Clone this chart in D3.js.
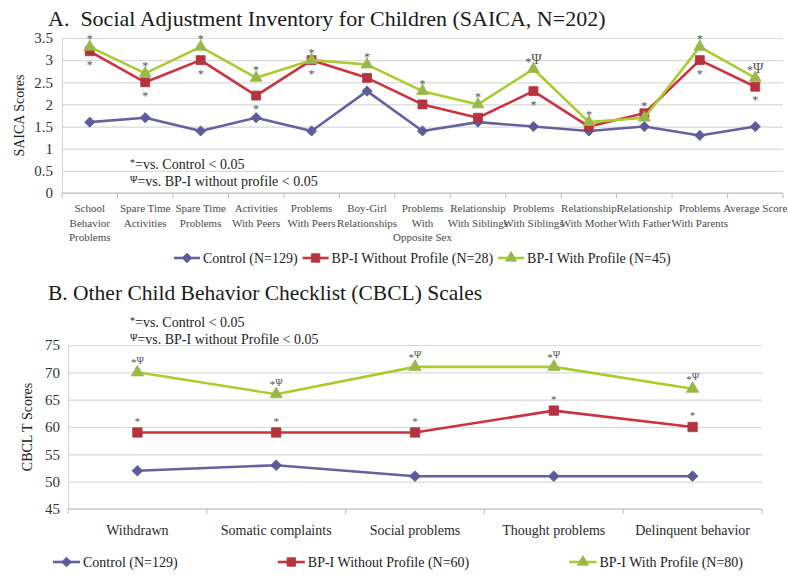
<!DOCTYPE html>
<html>
<head>
<meta charset="utf-8">
<script src="https://cdn.jsdelivr.net/npm/d3@7"></script>
<style>
  html, body { margin: 0; padding: 0; background: #fff; }
  svg { display: block; }
  svg text { font-family: "Liberation Serif", Tinos, "Times New Roman", Times, "DejaVu Serif", serif; }
</style>
</head>
<body>
<svg id="chart" width="788" height="578"></svg>
<script>
// ---- Panel A: Social Adjustment Inventory for Children (SAICA) ----
const saicaCategories = [
  "School\nBehavior\nProblems", "Spare Time\nActivities", "Spare Time\nProblems",
  "Activities\nWith Peers", "Problems\nWith Peers", "Boy-Girl\nRelationships",
  "Problems\nWith\nOpposite Sex", "Relationship\nWith Siblings", "Problems\nWith Siblings",
  "Relationship\nWith Mother", "Relationship\nWith Father", "Problems\nWith Parents",
  "Average Score"
];
const saicaTicks = [0, 0.5, 1, 1.5, 2, 2.5, 3, 3.5];
const saicaControl     = [1.6, 1.7, 1.4, 1.7, 1.4, 2.3, 1.4, 1.6, 1.5, 1.4, 1.5, 1.3, 1.5];
const saicaNoProfile   = [3.2, 2.5, 3.0, 2.2, 3.0, 2.6, 2.0, 1.7, 2.3, 1.5, 1.8, 3.0, 2.4];
const saicaWithProfile = [3.3, 2.7, 3.3, 2.6, 3.0, 2.9, 2.3, 2.0, 2.8, 1.6, 1.7, 3.3, 2.6];
const saicaSigAbove = ["*", "*", "*", "*", "*", "*", "*", "*", "*Ψ", "*", "*", "*", "*Ψ"];
const saicaSigBelow = ["*", "*", "*", "*", "*", "", "", "", "*", "", "", "*", "*"];
const saicaLegend = ["Control (N=129)", "BP-I Without Profile (N=28)", "BP-I With Profile (N=45)"];

// ---- Panel B: Other Child Behavior Checklist (CBCL) scales ----
const cbclCategories = ["Withdrawn", "Somatic complaints", "Social problems", "Thought problems", "Delinquent behavior"];
const cbclTicks = [45, 50, 55, 60, 65, 70, 75];
const cbclControl     = [52, 53, 51, 51, 51];
const cbclNoProfile   = [59, 59, 59, 63, 60];
const cbclWithProfile = [70, 66, 71, 71, 67];
const cbclSigWithProfile = ["*Ψ", "*Ψ", "*Ψ", "*Ψ", "*Ψ"];
const cbclSigNoProfile   = ["*", "*", "*", "*", "*"];
const cbclLegend = ["Control (N=129)", "BP-I Without Profile (N=60)", "BP-I With Profile (N=80)"];

// Series appearance (control, BP-I without profile, BP-I with profile)
const seriesStyle = [
  { line: "#64629f", fill: "#5d5b9a", shape: "diamond" },
  { line: "#cc323f", fill: "#b3343f", shape: "square" },
  { line: "#a9cc2e", fill: "#98b94a", shape: "triangle" }
];

const svg = d3.select("#chart");

function markerPath(shape, scale = 1) {
  if (shape === "diamond") return d3.symbol(d3.symbolSquare, 52 * scale)();
  if (shape === "square") return d3.symbol(d3.symbolSquare, 80 * scale)();
  return d3.symbol(d3.symbolTriangle, 60 * scale)();
}

function drawMarker(g, shape, cx, cy, style, scale = 1) {
  g.append("path")
    .attr("d", markerPath(shape, scale))
    .attr("transform", `translate(${cx},${cy})` + (shape === "diamond" ? " rotate(45)" : ""))
    .attr("fill", style.fill)
    .attr("stroke", style.fill)
    .attr("stroke-width", 0.8);
}

// Significance marks: "*" and optional "Ψ", vertically centred on yc
function sigText(g, str, x, yc, starSize, psiSize, color) {
  const t = g.append("text").attr("x", x).attr("y", yc + starSize * 0.55)
    .attr("text-anchor", "middle").attr("fill", color);
  const chars = Array.from(str);
  let prevBase = yc + starSize * 0.55;
  chars.forEach((c, i) => {
    const isStar = c === "*";
    const size = isStar ? starSize : psiSize;
    const base = isStar ? yc + starSize * 0.55 : yc + psiSize * 0.36;
    const ts = t.append("tspan").attr("font-size", size).text(c);
    if (i > 0) ts.attr("dy", base - prevBase);
    prevBase = base;
  });
}

function drawPanel(cfg) {
  const g = svg.append("g");
  const x = d3.scaleBand().domain(cfg.categories).range(cfg.xRange);
  const y = d3.scaleLinear().domain(d3.extent(cfg.ticks)).range(cfg.yRange);
  const width = cfg.xRange[1] - cfg.xRange[0];
  const cx = i => x(cfg.categories[i]) + x.bandwidth() / 2;

  // y axis with horizontal gridlines
  const yAxis = d3.axisLeft(y).tickValues(cfg.ticks)
    .tickSize(-width).tickSizeOuter(0).tickPadding(cfg.tickPad)
    .tickFormat(d => String(d));
  const ya = g.append("g").attr("transform", `translate(${cfg.xRange[0]},0)`).call(yAxis);
  ya.attr("font-family", null);
  ya.select(".domain").attr("stroke", "#d4d4d4");
  ya.selectAll(".tick line").attr("stroke", "#d9d9d9").attr("stroke-width", 1.2);
  ya.selectAll(".tick text").attr("font-size", cfg.tickFont).attr("fill", "#333");

  // category axis: baseline with ticks at band boundaries
  const y0 = y(d3.min(cfg.ticks));
  g.append("line").attr("x1", cfg.xRange[0]).attr("x2", cfg.xRange[1])
    .attr("y1", y0).attr("y2", y0).attr("stroke", "#bdbdbd").attr("stroke-width", 1.2);
  d3.range(cfg.categories.length + 1).forEach(i => {
    const bx = cfg.xRange[0] + i * x.step();
    g.append("line").attr("x1", bx).attr("x2", bx).attr("y1", y0).attr("y2", y0 + 5)
      .attr("stroke", "#bdbdbd");
  });

  // category labels
  cfg.categories.forEach((c, i) => {
    const t = g.append("text").attr("text-anchor", "middle")
      .attr("font-size", cfg.catFont).attr("fill", cfg.catColor);
    c.split("\n").forEach((line, j) => {
      t.append("tspan").attr("x", cx(i)).attr("y", cfg.catY + j * cfg.catLine).text(line);
    });
  });

  // y axis title
  g.append("text")
    .attr("transform", `translate(${cfg.yTitleX},${(cfg.yRange[0] + cfg.yRange[1]) / 2}) rotate(-90)`)
    .attr("text-anchor", "middle").attr("font-size", 14).attr("fill", "#222")
    .text(cfg.yTitle);

  // series lines and markers
  const line = d3.line().x((d, i) => cx(i)).y(d => y(d));
  cfg.series.forEach((vals, s) => {
    const st = seriesStyle[s];
    g.append("path").datum(vals).attr("d", line)
      .attr("fill", "none").attr("stroke", st.line).attr("stroke-width", 2.6)
      .attr("stroke-linejoin", "round");
    vals.forEach((v, i) => drawMarker(g, st.shape, cx(i), y(v), st, cfg.markerScale));
  });

  return { g, x, y, cx };
}

// ---------------- Panel A ----------------
svg.append("text").attr("x", 48).attr("y", 26).attr("font-size", 22).attr("fill", "#1a1a1a")
  .attr("xml:space", "preserve")
  .text("A.  Social Adjustment Inventory for Children (SAICA, N=202)");

const pA = drawPanel({
  categories: saicaCategories, ticks: saicaTicks,
  xRange: [62, 783], yRange: [193, 38], tickPad: 9, tickFont: 15,
  catFont: 11, catColor: "#4a4a4a", catY: 212, catLine: 14.5,
  yTitle: "SAICA Scores", yTitleX: 24, markerScale: 1,
  series: [saicaControl, saicaNoProfile, saicaWithProfile]
});

saicaCategories.forEach((c, i) => {
  const top = Math.max(saicaNoProfile[i], saicaWithProfile[i]);
  if (saicaSigAbove[i]) sigText(pA.g, saicaSigAbove[i], pA.cx(i), pA.y(top) - 10, 12, 14, "#555");
  if (saicaSigBelow[i]) sigText(pA.g, saicaSigBelow[i], pA.cx(i), pA.y(saicaNoProfile[i]) + 11, 12, 14, "#555");
});

// significance notes
function noteLines(x, yFirst, lines) {
  lines.forEach((l, j) => {
    const t = svg.append("text").attr("x", x).attr("y", yFirst + j * 17)
      .attr("font-size", 14).attr("fill", "#222");
    t.append("tspan").attr("font-size", 10).attr("dy", -3).text(l[0]);
    t.append("tspan").attr("dy", 3).text(l[1]);
  });
}
noteLines(130, 169, [["*", "=vs. Control < 0.05"], ["Ψ", "=vs. BP-I without profile < 0.05"]]);

// legend, panel A (packed items)
(function () {
  const g = svg.append("g").attr("transform", "translate(174,258)");
  let xPos = 0;
  saicaLegend.forEach((label, s) => {
    const st = seriesStyle[s];
    g.append("line").attr("x1", xPos).attr("x2", xPos + 26).attr("y1", 0).attr("y2", 0)
      .attr("stroke", st.line).attr("stroke-width", 2.6);
    drawMarker(g, st.shape, xPos + 13, 0, st, 0.9);
    const t = g.append("text").attr("x", xPos + 29).attr("y", 5)
      .attr("font-size", 14).attr("fill", "#222").text(label);
    xPos += 29 + t.node().getComputedTextLength() + 5;
  });
})();

// ---------------- Panel B ----------------
svg.append("text").attr("x", 48).attr("y", 300).attr("font-size", 21.5).attr("fill", "#1a1a1a")
  .text("B. Other Child Behavior Checklist (CBCL) Scales");

noteLines(130, 327, [["*", "=vs. Control < 0.05"], ["Ψ", "=vs. BP-I without Profile < 0.05"]]);

const pB = drawPanel({
  categories: cbclCategories, ticks: cbclTicks,
  xRange: [68, 762], yRange: [509, 345], tickPad: 8, tickFont: 15,
  catFont: 14, catColor: "#2a2a2a", catY: 535, catLine: 15,
  yTitle: "CBCL T Scores", yTitleX: 32, markerScale: 1.1,
  series: [cbclControl, cbclNoProfile, cbclWithProfile]
});

cbclCategories.forEach((c, i) => {
  if (cbclSigWithProfile[i]) sigText(pB.g, cbclSigWithProfile[i], pB.cx(i), pB.y(cbclWithProfile[i]) - 12, 11, 10, "#555");
  if (cbclSigNoProfile[i]) sigText(pB.g, cbclSigNoProfile[i], pB.cx(i), pB.y(cbclNoProfile[i]) - 14, 11, 10, "#555");
});

// legend, panel B (items spread across the width)
(function () {
  const g = svg.append("g").attr("transform", "translate(0,562)");
  const left = 53, right = 743;
  const items = cbclLegend.map((label, s) => {
    const it = g.append("g");
    const st = seriesStyle[s];
    it.append("line").attr("x1", 0).attr("x2", 27).attr("y1", 0).attr("y2", 0)
      .attr("stroke", st.line).attr("stroke-width", 2.6);
    drawMarker(it, st.shape, 13.5, 0, st, 0.9);
    const t = it.append("text").attr("x", 30).attr("y", 5)
      .attr("font-size", 14).attr("fill", "#222").text(label);
    return { it, w: 30 + t.node().getComputedTextLength() };
  });
  const total = d3.sum(items, d => d.w);
  const gap = (right - left - total) / (items.length - 1);
  let xPos = left;
  items.forEach(d => { d.it.attr("transform", `translate(${xPos},0)`); xPos += d.w + gap; });
})();
</script>
</body>
</html>
